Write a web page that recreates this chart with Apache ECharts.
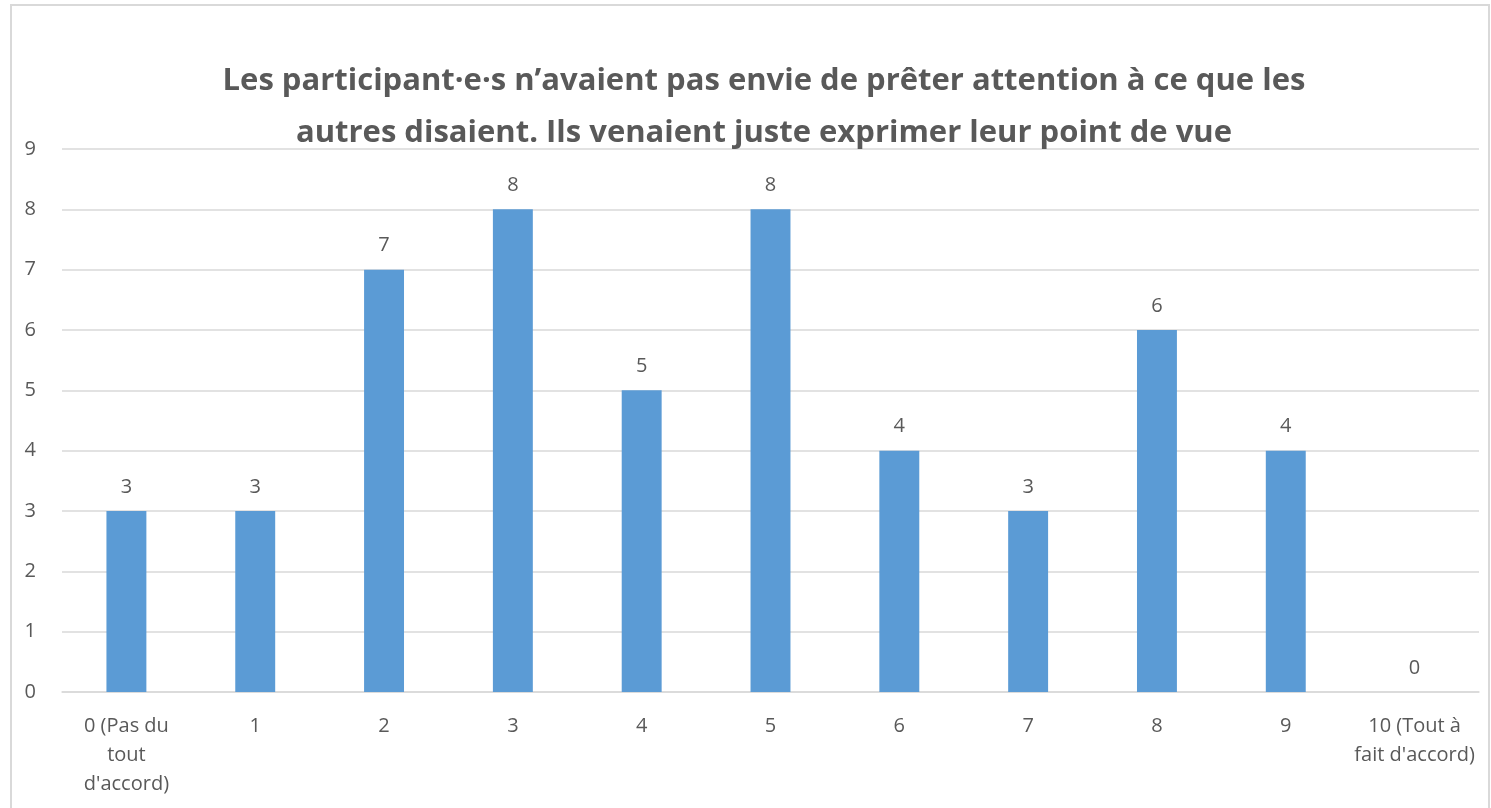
<!DOCTYPE html>
<html>
<head>
<meta charset="utf-8">
<script src="https://cdn.jsdelivr.net/npm/echarts@6/dist/echarts.min.js"></script>
<style>
  html, body { margin: 0; padding: 0; background: #fff; }
  #frame { position: absolute; left: 10px; top: 4px; width: 1480px; height: 820px; border: 2px solid #d9d9d9; box-sizing: border-box; }
  #main { position: absolute; left: 0; top: 0; width: 1491px; height: 808px; }
</style>
</head>
<body>
<div id="frame"></div>
<div id="main"></div>
<script>
// chart data
var titleText = 'Les participant\u00b7e\u00b7s n\u2019avaient pas envie de pr\u00eater attention \u00e0 ce que les\nautres disaient. Ils venaient juste exprimer leur point de vue';
var categories = ['0 (Pas du\ntout\nd\'accord)', '1', '2', '3', '4', '5', '6', '7', '8', '9', '10 (Tout \u00e0\nfait d\'accord)'];
var counts = [3, 3, 7, 8, 5, 8, 4, 3, 6, 4, 0];
var yTicks = { min: 0, max: 9, interval: 1 };

var textColor = '#595959';
var fontFam = '"Open Sans", "Noto Sans", sans-serif';

var myChart = echarts.init(document.getElementById('main'));
myChart.setOption({
  animation: false,
  title: {
    text: titleText,
    left: 759,
    textAlign: 'center',
    top: 50,
    textStyle: {
      color: textColor,
      fontFamily: fontFam,
      fontWeight: 'bold',
      fontSize: 31,
      lineHeight: 52
    }
  },
  grid: { left: 62, right: 12, top: 149, bottom: 116, containLabel: false },
  xAxis: {
    type: 'category',
    data: categories,
    axisLine: { lineStyle: { color: '#d9d9d9', width: 1.5 } },
    axisTick: { show: false },
    axisLabel: {
      color: textColor,
      fontFamily: fontFam,
      fontSize: 20,
      lineHeight: 29,
      margin: 20,
      interval: 0
    }
  },
  yAxis: {
    type: 'value',
    min: yTicks.min,
    max: yTicks.max,
    interval: yTicks.interval,
    axisLine: { show: false },
    axisTick: { show: false },
    splitLine: { lineStyle: { color: '#d9d9d9', width: 1.5 } },
    axisLabel: {
      color: textColor,
      fontFamily: fontFam,
      fontSize: 20,
      margin: 26
    }
  },
  series: [{
    type: 'bar',
    data: counts,
    barWidth: '31%',
    itemStyle: { color: '#5b9bd5' },
    label: {
      show: true,
      position: 'top',
      distance: 14,
      color: textColor,
      fontFamily: fontFam,
      fontSize: 20
    }
  }]
});
</script>
</body>
</html>
